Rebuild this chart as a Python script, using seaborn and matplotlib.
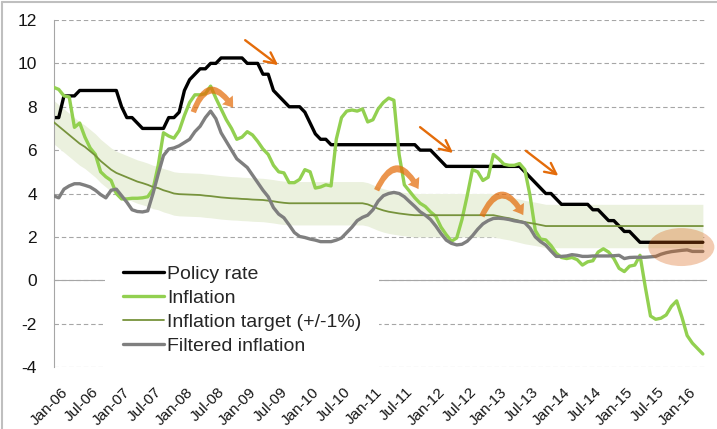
import numpy as np
import pandas as pd
import matplotlib.pyplot as plt
import matplotlib.transforms as mtransforms
from matplotlib.patches import Ellipse, FancyArrowPatch
from matplotlib.lines import Line2D
import seaborn as sns

# monthly data, Jan-06 .. May-16
months = pd.date_range('2006-01-01', periods=125, freq='MS')

policy_rate = [
    7.5, 7.5, 8.5, 8.5, 8.5, 8.75, 8.75, 8.75, 8.75, 8.75,
    8.75, 8.75, 8.75, 8.0, 7.5, 7.5, 7.25, 7.0, 7.0, 7.0,
    7.0, 7.0, 7.5, 7.5, 7.75, 8.75, 9.25, 9.5, 9.75, 9.75,
    10.0, 10.0, 10.25, 10.25, 10.25, 10.25, 10.25, 10.0, 10.0, 10.0,
    9.5, 9.5, 8.75, 8.5, 8.25, 8.0, 8.0, 8.0, 7.75, 7.25,
    6.75, 6.5, 6.5, 6.25, 6.25, 6.25, 6.25, 6.25, 6.25, 6.25,
    6.25, 6.25, 6.25, 6.25, 6.25, 6.25, 6.25, 6.25, 6.25, 6.25,
    6.0, 6.0, 6.0, 5.75, 5.5, 5.25, 5.25, 5.25, 5.25, 5.25,
    5.25, 5.25, 5.25, 5.25, 5.25, 5.25, 5.25, 5.25, 5.25, 5.25,
    5.0, 4.75, 4.5, 4.25, 4.0, 4.0, 3.75, 3.5, 3.5, 3.5,
    3.5, 3.5, 3.5, 3.25, 3.25, 3.0, 2.75, 2.75, 2.5, 2.25,
    2.25, 2.0, 1.75, 1.75, 1.75, 1.75, 1.75, 1.75, 1.75, 1.75,
    1.75, 1.75, 1.75, 1.75, 1.75,
]

inflation = [
    8.9, 8.8, 8.5, 8.45, 7.05, 7.25, 6.6, 6.1, 5.8, 5.0,
    4.77, 4.6, 4.0, 3.75, 3.75, 3.78, 3.78, 3.8, 3.85, 4.2,
    5.3, 6.8, 6.65, 6.55, 6.9, 7.6, 8.2, 8.55, 8.55, 8.6,
    8.95, 8.4, 7.9, 7.4, 7.0, 6.5, 6.6, 6.85, 6.7, 6.4,
    6.05, 5.8, 5.3, 5.0, 4.95, 4.5, 4.5, 4.65, 5.1, 5.0,
    4.25, 4.3, 4.4, 4.35, 6.5, 7.5, 7.8, 7.85, 7.8, 7.9,
    7.3, 7.4, 7.9, 8.2, 8.4, 8.3, 5.8, 4.4, 4.1, 3.8,
    3.55, 3.4, 3.15, 2.95, 2.45, 2.1, 1.8, 1.95, 2.8, 3.9,
    5.1, 5.0, 4.6, 4.75, 5.8, 5.6, 5.35, 5.3, 5.3, 5.38,
    5.1, 3.9, 2.3, 1.9, 1.86, 1.6, 1.25, 1.05, 1.0, 1.05,
    0.95, 0.7, 0.85, 0.9, 1.3, 1.45, 1.3, 1.0, 0.55, 0.4,
    0.65, 0.7, 1.15, -0.3, -1.65, -1.8, -1.75, -1.6, -1.2, -0.95,
    -1.7, -2.55, -2.9, -3.15, -3.4,
]

inflation_target = [
    7.3, 7.1, 6.9, 6.7, 6.5, 6.3, 6.15, 5.95, 5.75, 5.5,
    5.3, 5.1, 4.95, 4.85, 4.75, 4.65, 4.55, 4.48, 4.4, 4.3,
    4.25, 4.15, 4.08, 4.0, 3.97, 3.96, 3.95, 3.94, 3.93, 3.9,
    3.88, 3.85, 3.82, 3.8, 3.78, 3.77, 3.75, 3.74, 3.72, 3.71,
    3.7, 3.67, 3.64, 3.6, 3.57, 3.55, 3.55, 3.55, 3.55, 3.55,
    3.55, 3.55, 3.55, 3.55, 3.55, 3.55, 3.55, 3.55, 3.55, 3.55,
    3.5, 3.4, 3.3, 3.22, 3.16, 3.12, 3.08, 3.05, 3.02, 3.0,
    3.0, 3.0, 3.0, 3.0, 3.0, 3.0, 3.0, 3.0, 3.0, 3.0,
    3.0, 3.0, 3.0, 3.0, 3.0, 2.95, 2.9, 2.86, 2.8, 2.74,
    2.68, 2.64, 2.6, 2.55, 2.5, 2.5, 2.5, 2.5, 2.5, 2.5,
    2.5, 2.5, 2.5, 2.5, 2.5, 2.5, 2.5, 2.5, 2.5, 2.5,
    2.5, 2.5, 2.5, 2.5, 2.5, 2.5, 2.5, 2.5, 2.5, 2.5,
    2.5, 2.5, 2.5, 2.5, 2.5,
]

filtered_inflation = [
    3.9, 3.8, 4.2, 4.35, 4.45, 4.45, 4.38, 4.3, 4.15, 3.95,
    3.8, 4.15, 4.2, 3.9, 3.6, 3.25, 3.17, 3.15, 3.2, 4.0,
    4.9, 5.75, 6.05, 6.1, 6.2, 6.35, 6.5, 6.85, 7.1, 7.5,
    7.8, 7.45, 6.8, 6.4, 6.0, 5.6, 5.4, 5.2, 4.85, 4.5,
    4.15, 3.85, 3.35, 3.05, 2.88, 2.55, 2.2, 2.02, 1.97, 1.9,
    1.85, 1.78, 1.78, 1.78, 1.85, 1.95, 2.2, 2.45, 2.75, 2.9,
    3.0, 3.25, 3.65, 3.9, 4.0, 4.05, 4.0, 3.85, 3.62, 3.4,
    3.16, 3.0, 2.8, 2.5, 2.15, 1.85, 1.7, 1.63, 1.66, 1.8,
    2.05, 2.35, 2.6, 2.75, 2.85, 2.86, 2.84, 2.8, 2.74, 2.7,
    2.65, 2.4, 2.0, 1.78, 1.62, 1.35, 1.1, 1.1, 1.12, 1.18,
    1.15, 1.1, 1.1, 1.12, 1.12, 1.12, 1.12, 1.13, 1.15, 1.0,
    1.05, 1.06, 1.06, 1.06, 1.08, 1.1, 1.2, 1.27, 1.32, 1.35,
    1.38, 1.4, 1.33, 1.33, 1.33,
]

tick_every = 6
tick_labels = [d.strftime('%b-%y') for d in months[::tick_every]][:21]
y_ticks = [-4, -2, 0, 2, 4, 6, 8, 10, 12]

# orange decorations (data coords)
straight_arrows = [((36.6, 11.07), (42.9, 9.92)),
                   ((70.0, 7.06), (76.3, 5.87)),
                   ((90.2, 5.97), (96.4, 4.82))]
curved_arrows = [((26.7, 7.75), (34.3, 7.95)),
                 ((61.7, 4.15), (69.7, 4.2)),
                 ((81.8, 2.95), (89.7, 3.0))]
highlight = (119.9, 1.53, 12.6, 1.75)  # center x, center y, width, height

df = pd.DataFrame({
    'm': np.arange(len(months)),
    'policy': policy_rate,
    'inflation': inflation,
    'target': inflation_target,
    'filtered': filtered_inflation,
})

sns.set_style('white')
plt.rcParams['font.family'] = ['Liberation Sans', 'DejaVu Sans']

W, H = 717, 429
fig = plt.figure(figsize=(W / 100, H / 100), dpi=100)
ax = fig.add_axes([53.5 / W, 1 - 367 / H, (706 - 53.5) / W, (367 - 20) / H])

orange = '#E46C0A'
grey_ax = '#A6A6A6'

# target band +/- 1
ax.fill_between(df['m'], df['target'] - 1, df['target'] + 1,
                color='#EBF1DE', lw=0, zorder=1)

sns.lineplot(data=df, x='m', y='policy', ax=ax, color='black', lw=2.4,
             label='Policy rate', zorder=2)
sns.lineplot(data=df, x='m', y='inflation', ax=ax, color='#92D050', lw=2.4,
             label='Inflation', zorder=3)
sns.lineplot(data=df, x='m', y='target', ax=ax, color='#77933C', lw=1.3,
             label='Inflation target (+/-1%)', zorder=4)
sns.lineplot(data=df, x='m', y='filtered', ax=ax, color='#7F7F7F', lw=2.4,
             label='Filtered inflation', zorder=5)

ax.set_xlim(0, 124.6)
ax.set_ylim(-4, 12)
ax.set_xlabel('')
ax.set_ylabel('')

# axes styling
ax.set_yticks(y_ticks)
ax.set_yticklabels([str(v) for v in y_ticks])
ax.yaxis.grid(True, linestyle=(0, (4, 2.6)), color=grey_ax, lw=0.8)
ax.xaxis.grid(False)
ax.set_axisbelow(True)
for s in ['top', 'right']:
    ax.spines[s].set_visible(False)
ax.spines['left'].set_color(grey_ax)
ax.spines['bottom'].set_color(grey_ax)
ax.spines['bottom'].set_position(('data', 0))
ax.tick_params(axis='y', direction='out', length=4, color=grey_ax, width=0.8,
               labelsize=12.5, labelcolor='#141414', pad=8)
tick_pos = df['m'].values[::tick_every][:21]
ax.set_xticks(tick_pos)
ax.tick_params(axis='x', direction='out', length=4, color=grey_ax, width=0.8,
               labelbottom=False)

# date labels sit at the bottom of the plot area
sec = ax.secondary_xaxis('bottom')
sec.spines['bottom'].set_visible(False)
sec.set_xticks(tick_pos)
sec.set_xticklabels(tick_labels, rotation=45, ha='right', rotation_mode='anchor',
                    fontsize=11, color='#141414')
sec.tick_params(axis='x', length=0, pad=13)
offset = mtransforms.ScaledTranslation(5 / 72, 0, fig.dpi_scale_trans)
for lbl in sec.get_xticklabels():
    lbl.set_transform(lbl.get_transform() + offset)

# orange annotations
for start, end in straight_arrows:
    ax.annotate('', xy=end, xytext=start,
                arrowprops=dict(arrowstyle='->', color=orange, lw=1.7,
                                mutation_scale=20, shrinkA=0, shrinkB=0),
                zorder=7)
for start, end in curved_arrows:
    ax.add_patch(FancyArrowPatch(
        start, end, connectionstyle='arc3,rad=-1.0',
        arrowstyle='simple,tail_width=4,head_width=10,head_length=7',
        color=orange, alpha=0.72, lw=0, shrinkA=0, shrinkB=0, zorder=7))
cx, cy, ew, eh = highlight
ax.add_patch(Ellipse((cx, cy), ew, eh, facecolor='#D95F0E', alpha=0.32,
                     lw=0, zorder=8, clip_on=False))

ax.legend(loc='upper left', bbox_to_anchor=(105 / W, 1 - 248 / H),
          bbox_transform=fig.transFigure, borderaxespad=0, borderpad=0.9,
          frameon=True, facecolor='white', edgecolor='none', framealpha=1,
          fancybox=False, fontsize=14, handlelength=2.15, handletextpad=0.15,
          labelspacing=0.32)

# chart-area border
fig.add_artist(Line2D([2 / W, 1], [1 - 2 / H, 1 - 2 / H], color='#BFBFBF', lw=1.5))
fig.add_artist(Line2D([2 / W, 2 / W], [0, 1 - 2 / H], color='#BFBFBF', lw=1.5))

fig.savefig('out.png', dpi=100, facecolor='white')
